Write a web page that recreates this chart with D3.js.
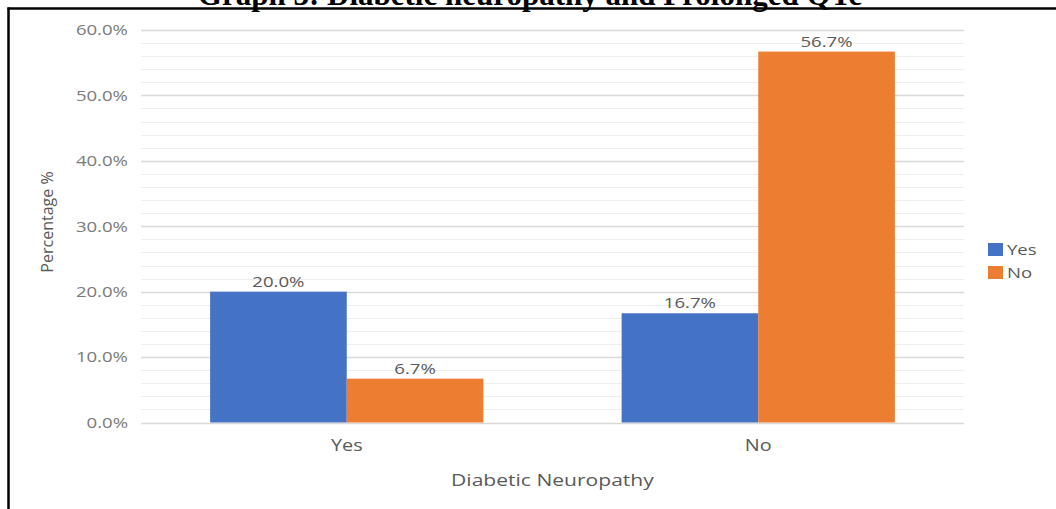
<!DOCTYPE html>
<html>
<head>
<meta charset="utf-8">
<script src="https://cdn.jsdelivr.net/npm/d3@7"></script>
<style>
  html, body { margin: 0; padding: 0; background: #ffffff; }
  svg { display: block; }
  .wide { transform-box: fill-box; transform-origin: center; transform: scaleX(1.24); }
  .wide-right { transform-box: fill-box; transform-origin: right center; transform: scaleX(1.24); }
  .wide-left { transform-box: fill-box; transform-origin: left center; transform: scaleX(1.24); }
</style>
</head>
<body>
<svg id="chart" width="1056" height="509"></svg>
<script>
// Categories on the x axis and the two series plotted for each
const categories = ["Yes", "No"];
const seriesNames = ["Yes", "No"];
const yesValues = [20.0, 16.7];
const noValues = [6.7, 56.7];
const yTicks = [0, 10, 20, 30, 40, 50, 60];
const titleText = "Graph 3: Diabetic neuropathy and Prolonged QTc";
const xTitle = "Diabetic Neuropathy";
const yTitle = "Percentage %";

const colors = { "Yes": "#4472C4", "No": "#ED7D31" };
const seriesValues = { "Yes": yesValues, "No": noValues };
const font = "'Open Sans', 'Noto Sans', sans-serif";

const svg = d3.select("#chart");

// frame and title
svg.append("rect").attr("x", 0).attr("y", 0).attr("width", 1056).attr("height", 509).attr("fill", "#ffffff");
svg.append("text")
  .attr("x", 530).attr("y", 5)
  .attr("text-anchor", "middle")
  .attr("font-family", "'Liberation Serif', 'Times New Roman', serif")
  .attr("font-weight", "bold")
  .attr("font-size", 31)
  .attr("fill", "#000")
  .text(titleText);
svg.append("line").attr("x1", 7.5).attr("x2", 1056).attr("y1", 8.5).attr("y2", 8.5)
  .attr("stroke", "#000").attr("stroke-width", 2.5);
svg.append("line").attr("x1", 8.5).attr("x2", 8.5).attr("y1", 7.5).attr("y2", 509)
  .attr("stroke", "#000").attr("stroke-width", 2.5);

// scales
const x0 = d3.scaleBand().domain(categories).range([141, 964]).paddingInner(0.336).paddingOuter(0.168);
const x1 = d3.scaleBand().domain(seriesNames).range([0, x0.bandwidth()]);
const y = d3.scaleLinear().domain([0, 60]).range([422.5, 30]);

// minor gridlines every 2%
const minor = d3.range(0, 61, 2).filter(v => v % 10 !== 0);
svg.append("g").selectAll("line").data(minor).join("line")
  .attr("x1", 141).attr("x2", 964)
  .attr("y1", d => Math.round(y(d)) + 0.5).attr("y2", d => Math.round(y(d)) + 0.5)
  .attr("stroke", "#eeeeee").attr("stroke-width", 1);

// major gridlines
svg.append("g").selectAll("line").data(yTicks).join("line")
  .attr("x1", 141).attr("x2", 964)
  .attr("y1", d => Math.round(y(d)) + 0.5).attr("y2", d => Math.round(y(d)) + 0.5)
  .attr("stroke", "#d9d9d9").attr("stroke-width", 1.5);

// y axis
const yAxis = svg.append("g").attr("transform", "translate(141,0)")
  .call(d3.axisLeft(y).tickValues(yTicks).tickSize(0).tickPadding(13).tickFormat(d => d.toFixed(1) + "%"));
yAxis.select(".domain").remove();
yAxis.selectAll("text")
  .attr("font-family", font).attr("font-size", 15).attr("fill", "#7a7a7a")
  .attr("class", "wide-right");

// x axis
const xAxis = svg.append("g").attr("transform", "translate(0,422.5)")
  .call(d3.axisBottom(x0).tickSize(0).tickPadding(17));
xAxis.select(".domain").remove();
xAxis.selectAll("text")
  .attr("font-family", font).attr("font-size", 16).attr("fill", "#595959")
  .attr("class", "wide");

// bars
const groups = svg.append("g").selectAll("g").data(categories).join("g")
  .attr("transform", d => `translate(${x0(d)},0)`);
groups.selectAll("rect")
  .data((c, i) => seriesNames.map(s => ({ s, v: seriesValues[s][i] })))
  .join("rect")
  .attr("x", d => x1(d.s))
  .attr("y", d => y(d.v))
  .attr("width", x1.bandwidth())
  .attr("height", d => y(0) - y(d.v))
  .attr("fill", d => colors[d.s]);

// value labels
groups.selectAll("text")
  .data((c, i) => seriesNames.map(s => ({ s, v: seriesValues[s][i] })))
  .join("text")
  .attr("x", d => x1(d.s) + x1.bandwidth() / 2)
  .attr("y", d => y(d.v) - 5)
  .attr("text-anchor", "middle")
  .attr("font-family", font).attr("font-size", 15).attr("fill", "#595959")
  .attr("class", "wide")
  .text(d => d.v.toFixed(1) + "%");

// axis titles
svg.append("text")
  .attr("x", 552.5).attr("y", 486)
  .attr("text-anchor", "middle")
  .attr("font-family", font).attr("font-size", 17).attr("fill", "#595959")
  .attr("class", "wide")
  .text(xTitle);
svg.append("text")
  .attr("transform", "translate(53,222) rotate(-90)")
  .attr("text-anchor", "middle")
  .attr("font-family", font).attr("font-size", 16).attr("fill", "#595959")
  .text(yTitle);

// legend
const legend = svg.append("g").selectAll("g").data(seriesNames).join("g")
  .attr("transform", (d, i) => `translate(988,${243 + i * 23})`);
legend.append("rect").attr("width", 15).attr("height", 13).attr("fill", d => colors[d]);
legend.append("text")
  .attr("x", 19).attr("y", 12)
  .attr("font-family", font).attr("font-size", 15).attr("fill", "#595959")
  .attr("class", "wide-left")
  .text(d => d);
</script>
</body>
</html>
